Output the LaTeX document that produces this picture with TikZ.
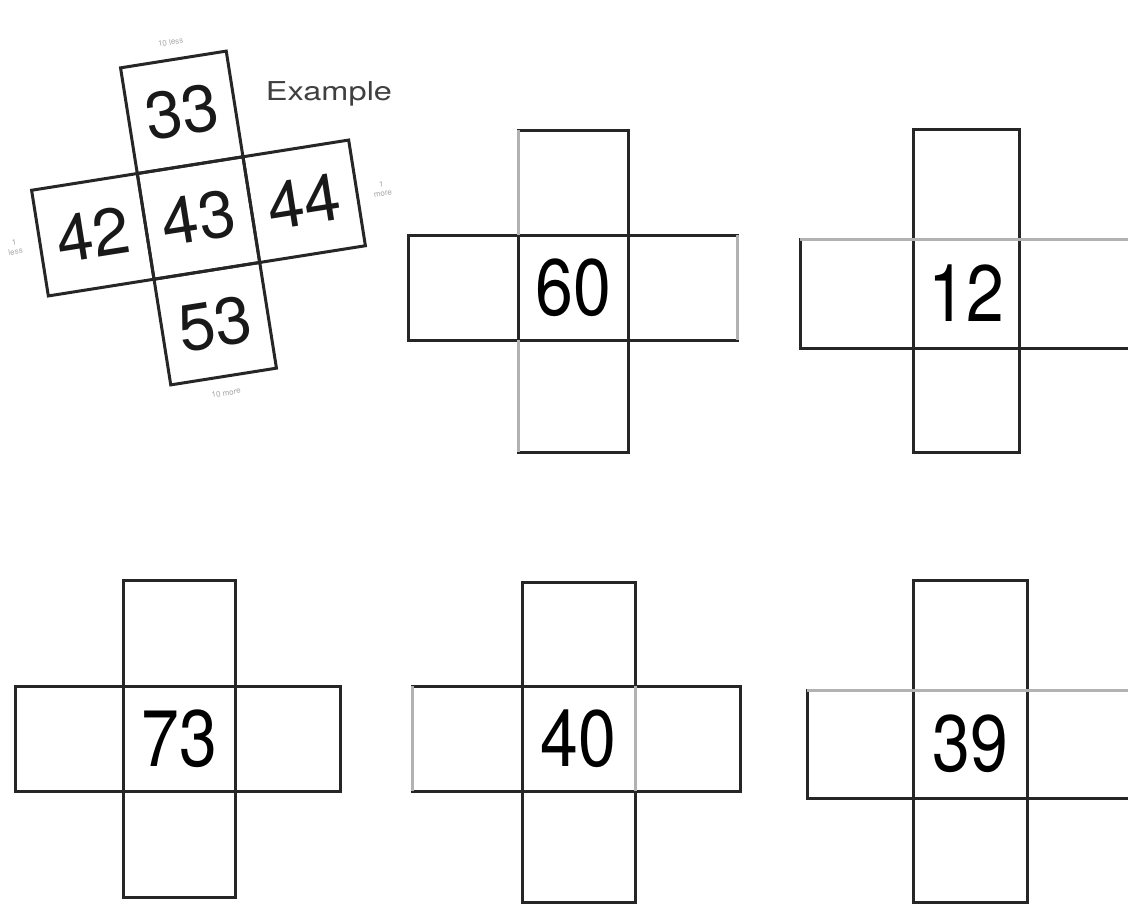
\documentclass[tikz,border=0pt]{standalone}
\usepackage{fontspec}
\usepackage{graphicx}
\setmainfont{TeX Gyre Heros}
\tikzset{
  cell/.style={draw=black!85, line width=3pt, rectangle, inner sep=0pt, outer sep=0pt},
  num/.style={font=\fontsize{80}{80}\selectfont},
  exnum/.style={font=\fontsize{66}{66}\selectfont, inner sep=0pt, text=black!90},
  faint/.style={draw=black!30, line width=3pt},
  tiny/.style={text=black!35, font=\fontsize{8}{9}\selectfont, align=center, inner sep=0pt}
}
\begin{document}
\begin{tikzpicture}[x=1pt,y=-1pt]
\clip (0,0) rectangle (1128,905);
\fill[white] (0,0) rectangle (1128,905);

% ---------- Example (rotated) ----------
\begin{scope}[shift={(198.5,218)}, rotate=9, transform shape]
  \node[cell, minimum width=107pt, minimum height=107pt] (e43) at (0,0) {};
  \node[cell, minimum width=107pt, minimum height=107pt] (e33) at (0,-107) {};
  \node[cell, minimum width=107pt, minimum height=107pt] (e53) at (0,107) {};
  \node[cell, minimum width=107pt, minimum height=107pt] (e42) at (-107,0) {};
  \node[cell, minimum width=107pt, minimum height=107pt] (e44) at (107,0) {};
  \node[exnum] (n43) at (e43.center) {43};
  \node[exnum] (n33) at (e33.center) {33};
  \node[exnum] (n53) at (e53.center) {53};
  \node[exnum] (n42) at (e42.center) {42};
  \node[exnum] (n44) at (e44.center) {44};
  \node[tiny] (lt) at (0,-178) {10 less};
  \node[tiny] (lb) at (0,177) {10 more};
  \node[tiny] (lr) at (186,0) {1\\more};
  \node[tiny] (ll) at (-186,0) {1\\less};
\end{scope}
\node[text=black!75, font=\fontsize{26}{26}\selectfont] (ex) at (329,94) {\scalebox{1.25}[1]{Example}};

% ---------- Cross 60 ----------
\node[cell, num, minimum width=110pt, minimum height=105pt] (c60) at (573,287.5) {\scalebox{0.85}[1]{60}};
\node[cell, minimum width=110pt, minimum height=105pt] (l60) at (463,287.5) {};
\node[cell, minimum width=109pt, minimum height=105pt] (r60) at (682.5,287.5) {};
\node[cell, minimum width=110pt, minimum height=105pt] (t60) at (573,182.5) {};
\node[cell, minimum width=110pt, minimum height=112pt] (b60) at (573,396) {};
\draw[faint] (t60.north west) -- (t60.south west);
\draw[faint] (b60.north west) -- (b60.south west);
\draw[faint] (r60.north east) -- (r60.south east);

% ---------- Cross 12 ----------
\node[cell, num, minimum width=106pt, minimum height=109pt] (c12) at (966,293.5) {\scalebox{0.85}[1]{12}};
\node[cell, minimum width=113pt, minimum height=109pt] (l12) at (856.5,293.5) {};
\node[cell, minimum width=116pt, minimum height=109pt] (r12) at (1077,293.5) {};
\node[cell, minimum width=106pt, minimum height=110pt] (t12) at (966,184) {};
\node[cell, minimum width=106pt, minimum height=104pt] (b12) at (966,400) {};
\draw[faint] (l12.north west) -- (r12.north east);

% ---------- Cross 73 ----------
\node[cell, num, minimum width=112pt, minimum height=105pt] (c73) at (179,738.5) {\scalebox{0.85}[1]{73}};
\node[cell, minimum width=108pt, minimum height=105pt] (l73) at (69,738.5) {};
\node[cell, minimum width=105pt, minimum height=105pt] (r73) at (287.5,738.5) {};
\node[cell, minimum width=112pt, minimum height=106pt] (t73) at (179,633) {};
\node[cell, minimum width=112pt, minimum height=106pt] (b73) at (179,844) {};

% ---------- Cross 40 ----------
\node[cell, num, minimum width=113pt, minimum height=105pt] (c40) at (578.5,738.5) {\scalebox{0.85}[1]{40}};
\node[cell, minimum width=110pt, minimum height=105pt] (l40) at (467,738.5) {};
\node[cell, minimum width=105pt, minimum height=105pt] (r40) at (687.5,738.5) {};
\node[cell, minimum width=113pt, minimum height=104pt] (t40) at (578.5,634) {};
\node[cell, minimum width=113pt, minimum height=111pt] (b40) at (578.5,846.5) {};
\draw[faint] (l40.north west) -- (l40.south west);
\draw[faint] (c40.north east) -- (c40.south east);

% ---------- Cross 39 ----------
\node[cell, num, minimum width=114pt, minimum height=108pt] (c39) at (970,744) {\scalebox{0.85}[1]{39}};
\node[cell, minimum width=106pt, minimum height=108pt] (l39) at (860,744) {};
\node[cell, minimum width=113pt, minimum height=108pt] (r39) at (1083.5,744) {};
\node[cell, minimum width=114pt, minimum height=110pt] (t39) at (970,635) {};
\node[cell, minimum width=114pt, minimum height=104pt] (b39) at (970,850) {};
\draw[faint] (l39.north west) -- (r39.north east);
\end{tikzpicture}
\end{document}
